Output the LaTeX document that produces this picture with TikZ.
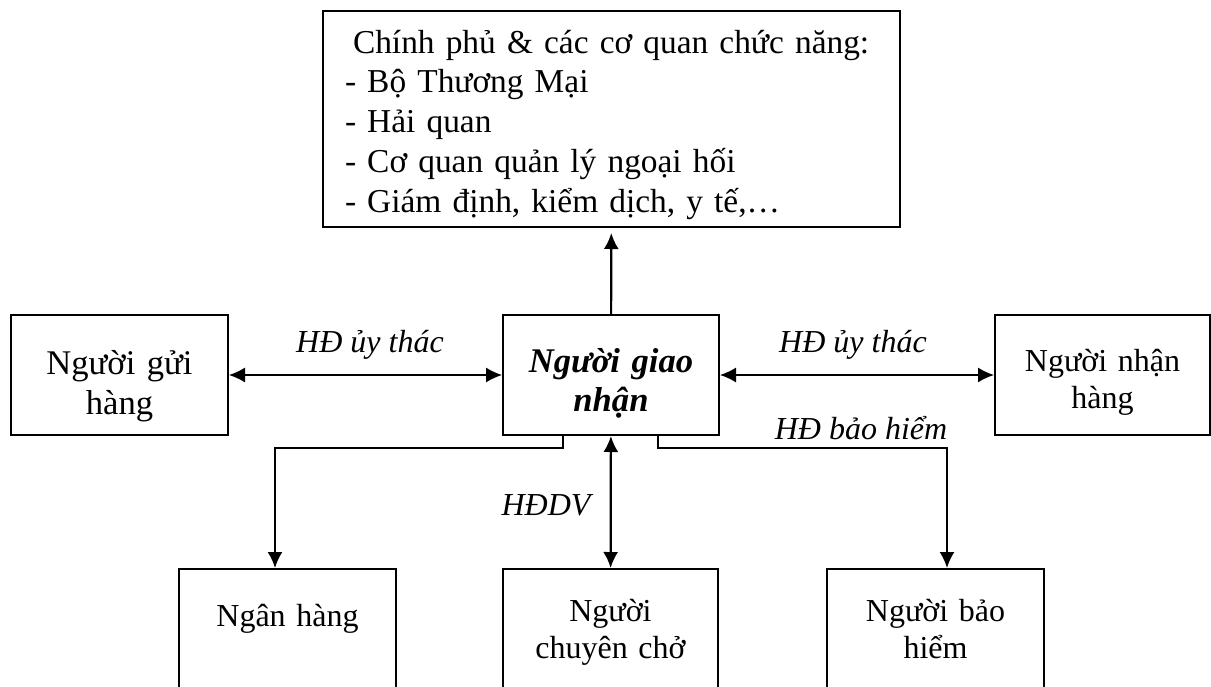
\documentclass[tikz,border=0pt]{standalone}
\usepackage{fontspec}
\setmainfont{Liberation Serif}
\usetikzlibrary{arrows.meta}

\begin{document}
\begin{tikzpicture}[x=0.5pt,y=-0.5pt]
\tikzset{>={Latex[length=8pt,width=7.5pt]}}
\tikzset{box/.style={draw,line width=1pt,align=center,inner sep=0pt,
    minimum height=60pt,font=\fontsize{17.3}{20}\selectfont}}
\tikzset{small/.style={font=\fontsize{16}{18.5}\selectfont}}
\tikzset{lbl/.style={font=\fontsize{16}{18.5}\selectfont\itshape,inner sep=0pt}}

\useasboundingbox (0,0) rectangle (1211,686);
\clip (0,0) rectangle (1211,686);

\node[box,align=left,minimum width=288.5pt,minimum height=108pt,
  text width=266.5pt,font=\fontsize{16.7}{19.9}\selectfont,
  text height=15pt,text depth=81pt] (chinhphu) at (611.5,119)
  {\hspace*{4pt}Chính phủ \& các cơ quan chức năng:\\
   - Bộ Thương Mại\\
   - Hải quan\\
   - Cơ quan quản lý ngoại hối\\
   - Giám định, kiểm dịch, y tế,…};

\node[box,text width=108.5pt,text height=10pt,text depth=11pt] (gui) at (119.5,375) {Người gửi\\hàng};
\node[box,text width=108pt,font=\fontsize{17.3}{19.5}\selectfont\bfseries\itshape,
  text height=9.5pt,text depth=12pt] (giao) at (611,375) {Người giao\\nhận};
\node[box,small,text width=107.5pt,text height=9pt,text depth=12.5pt] (nhan) at (1102.5,375) {Người nhận\\hàng};

\node[box,small,text width=108.5pt,text height=9pt,text depth=12pt] (nganhang) at (287.5,629) {Ngân hàng};
\node[box,small,text width=107.5pt,text height=6.5pt,text depth=14.5pt] (cho) at (610.5,629) {Người\\chuyên chở};
\node[box,small,text width=108.5pt,text height=6.5pt,text depth=14.5pt] (baohiem) at (935.5,629) {Người bảo\\hiểm};

% connectors
\draw[->,line width=1.1pt,shorten >=2.5pt] (giao) -- (chinhphu);
\draw[<->,line width=0.7pt] (gui) -- (giao);
\draw[<->,line width=0.7pt] (giao) -- (nhan);
\draw[<->,line width=1.1pt] (giao) -- (cho);
\draw[->,line width=1pt] ([xshift=-24pt]giao.south) -- ++(0,12) -| ([xshift=-6.25pt]nganhang.north);
\draw[->,line width=1pt] ([xshift=23.5pt]giao.south) -- ++(0,12) -| ([xshift=5.75pt]baohiem.north);

\node[lbl] (l1) at (370,345) {HĐ ủy thác};
\node[lbl] (l2) at (853,345) {HĐ ủy thác};
\node[lbl] (l3) at (861,428) {HĐ bảo hiểm};
\node[lbl] (l4) at (546,505) {HĐDV};

\end{tikzpicture}
\end{document}
